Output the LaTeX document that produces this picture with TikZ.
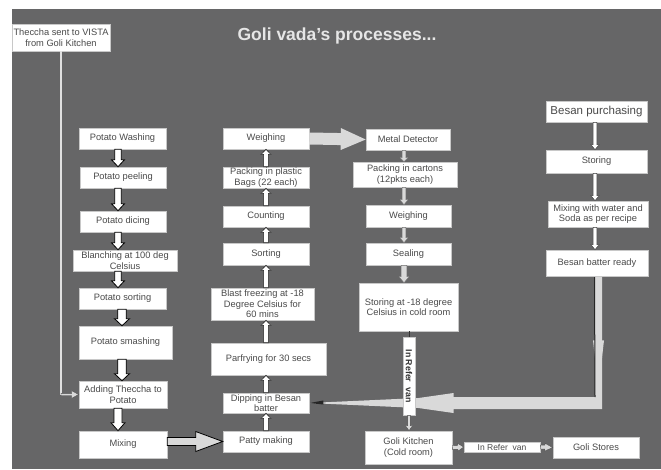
\documentclass[tikz,border=0pt]{standalone}
\usepackage{fontspec}
\setmainfont{Liberation Sans}
\usetikzlibrary{calc}
\definecolor{bgc}{HTML}{666667}
\definecolor{boxline}{HTML}{C8C8C8}
\definecolor{boxtext}{HTML}{4A4A4A}
\definecolor{lightfill}{HTML}{D9D9D9}
\definecolor{titlec}{HTML}{E6E6E6}
\pgfdeclarelayer{bg}
\pgfsetlayers{bg,main}
% #1 style, #2 start, #3 end, #4 shaft half width, #5 head half width, #6 head length
\newcommand{\blkarrow}[6]{%
  \coordinate (fas) at (#2);
  \coordinate (fae) at (#3);
  \coordinate (fah) at ($(fae)!#6pt!(fas)$);
  \filldraw[#1] ($(fas)!#4pt!90:(fae)$) -- ($(fah)!#4pt!-90:(fas)$) -- ($(fah)!#5pt!-90:(fas)$) -- (fae) -- ($(fah)!#5pt!90:(fas)$) -- ($(fah)!#4pt!90:(fas)$) -- ($(fas)!#4pt!-90:(fae)$) -- cycle;}
\tikzset{
  sz/.style 2 args={minimum width=#1pt, minimum height=#2pt},
  box/.style={draw=boxline, fill=white, text=boxtext, inner sep=0pt, align=center,
    font=\fontsize{9.3}{10.5}\selectfont, line width=0.6pt},
  titletext/.style={text=titlec, font=\fontsize{17.5}{20}\selectfont\bfseries, inner sep=0pt},
  lcol/.style={fill=white, draw=black, line width=0.8pt},
  mcol/.style={fill=white, draw=black!85, line width=0.6pt},
  rcol/.style={fill=lightfill, draw=black!55, line width=0.4pt},
  bcol/.style={fill=white, draw=black!75, line width=0.5pt},
  bigdark/.style={fill=lightfill, draw=black, line width=0.8pt},
  biglight/.style={fill=lightfill, draw=none},
  smallar/.style={fill=lightfill, draw=black!70, line width=0.4pt},
  thline/.style={draw=white!88!black, line width=1.4pt},
}
\begin{document}
\begin{tikzpicture}[x=1pt,y=-1pt]
\useasboundingbox (0,0) rectangle (661,469);
\begin{pgfonlayer}{bg}
  \fill[white] (0,0) rectangle (661,469);
  \fill[bgc] (12,9) rectangle (661,469);
\end{pgfonlayer}

\node[titletext] (title) at (337,36) {Goli vada's processes...};

% left column
\node[box, sz={98}{27}] (theccha) at (61,37.5) {Theccha sent to VISTA\\from Goli Kitchen};
\node[box, sz={87}{21}] (wash) at (122.5,138.5) {Potato Washing};
\node[box, sz={86}{21}] (peel) at (123,177.5) {Potato peeling};
\node[box, sz={86}{21}] (dice) at (123,221.5) {Potato dicing};
\node[box, sz={104}{21}] (blanch) at (125,260.5) {Blanching at 100 deg\\Celsius};
\node[box, sz={87}{21}] (psort) at (122.5,298.5) {Potato sorting};
\node[box, sz={93}{33}] (smash) at (125.5,342.5) {Potato smashing};
\node[box, sz={88}{27}] (adding) at (123,394.5) {Adding Theccha to\\Potato};
\node[box, sz={88}{27}] (mixing) at (123,444.5) {Mixing};

% middle column
\node[box, sz={86}{21}] (weigh1) at (266,138.5) {Weighing};
\node[box, sz={86}{21}] (pack1) at (266,177.5) {Packing in plastic\\Bags (22 each)};
\node[box, sz={86}{21}] (count) at (266,216.5) {Counting};
\node[box, sz={86}{22}] (sort2) at (266,254) {Sorting};
\node[box, sz={103}{32}] (blast) at (262.5,304) {Blast freezing at -18\\Degree Celsius for\\60 mins};
\node[box, sz={115}{32}] (parfry) at (268.5,359) {Parfrying for 30 secs};
\node[box, sz={86}{20}] (dip) at (266,403) {Dipping in Besan\\batter};
\node[box, sz={86}{21}] (patty) at (266,441.5) {Patty making};

% right-middle column
\node[box, sz={84}{21}] (metal) at (408,139.5) {Metal Detector};
\node[box, sz={104}{25}] (cartons) at (405,174.5) {Packing in cartons\\(12pkts each)};
\node[box, sz={85}{22}] (weigh2) at (408.5,216) {Weighing};
\node[box, sz={85}{22}] (seal) at (408.5,254) {Sealing};
\node[box, sz={99}{48}] (storing) at (408.5,307) {Storing at -18 degree\\Celsius in cold room};
\node[box, sz={87}{33}] (golik) at (408.5,447.5) {Goli Kitchen\\(Cold room)};
\node[box, sz={76}{10}, font=\fontsize{8.5}{9}\selectfont] (refer2) at (502,447) {In Refer\ \ van};
\node[box, sz={86}{21}] (stores) at (596,447.5) {Goli Stores};

% right column
\node[box, sz={101}{21}, font=\fontsize{11.5}{13}\selectfont] (besan) at (596.5,111.5) {Besan purchasing};
\node[box, sz={101}{23}] (storing2) at (596.5,161.5) {Storing};
\node[box, sz={100}{26}] (mixw) at (598,214) {Mixing with water and\\Soda as per recipe};
\node[box, sz={102}{26}] (batter) at (597,263) {Besan batter ready};

% vertical van box
\node[box, rotate=-90, sz={78}{12}, font=\fontsize{8.8}{9}\selectfont\bfseries, text=black!80] (refer1) at (409,376) {In Refer\ \ van};

% column x references
\coordinate (lx) at (118,0);
\coordinate (mx) at (266,0);
\coordinate (rx) at (404,0);
\coordinate (bx) at (595,0);

% left column arrows
\blkarrow{lcol}{lx |- wash.south}{lx |- peel.north}{3.3}{6.5}{7}
\blkarrow{lcol}{lx |- peel.south}{lx |- dice.north}{3.3}{6.5}{7}
\blkarrow{lcol}{lx |- dice.south}{lx |- blanch.north}{3.3}{6.5}{7}
\blkarrow{lcol}{lx |- blanch.south}{lx |- psort.north}{3.3}{6.5}{7}
\blkarrow{lcol}{$(lx |- psort.south)+(4,0)$}{$(lx |- smash.north)+(4,0)$}{4.2}{7.5}{7}
\blkarrow{lcol}{$(lx |- smash.south)+(4,0)$}{$(lx |- adding.north)+(4,0)$}{4.2}{7.5}{7}
\blkarrow{lcol}{lx |- adding.south}{lx |- mixing.north}{4}{7}{8}

% middle column up arrows
\blkarrow{mcol}{mx |- patty.north}{mx |- dip.south}{2.4}{4.8}{5}
\blkarrow{mcol}{mx |- dip.north}{mx |- parfry.south}{2.4}{4.8}{5}
\blkarrow{mcol}{mx |- parfry.north}{mx |- blast.south}{2.4}{4.8}{5}
\blkarrow{mcol}{mx |- blast.north}{mx |- sort2.south}{2.4}{4.8}{5}
\blkarrow{mcol}{mx |- sort2.north}{mx |- count.south}{2.4}{4.8}{5}
\blkarrow{mcol}{mx |- count.north}{mx |- pack1.south}{2.4}{4.8}{5}
\blkarrow{mcol}{mx |- pack1.north}{mx |- weigh1.south}{2.4}{4.8}{5}

% right-middle down arrows
\blkarrow{rcol}{rx |- metal.south}{rx |- cartons.north}{1.8}{4}{4}
\blkarrow{rcol}{rx |- cartons.south}{rx |- weigh2.north}{1.8}{4}{5}
\blkarrow{rcol}{rx |- weigh2.south}{rx |- seal.north}{1.8}{4}{5}
\blkarrow{rcol}{rx |- seal.south}{rx |- storing.north}{2.8}{5}{6}

% besan column arrows
\blkarrow{bcol}{bx |- besan.south}{bx |- storing2.north}{1.8}{4}{5}
\blkarrow{bcol}{bx |- storing2.south}{bx |- mixw.north}{1.8}{4}{5}
\blkarrow{bcol}{bx |- mixw.south}{bx |- batter.north}{1.8}{4}{5}

% big arrows
\blkarrow{bigdark}{$(mixing.east)+(0,-3)$}{$(patty.west |- mixing.east)+(0,-3)$}{4}{10}{27}
\blkarrow{biglight}{weigh1.east}{metal.west}{6}{11}{25}

% theccha line
\coordinate (thc) at (theccha.south |- adding.west);
\draw[thline] (theccha.south) -- (thc);
\blkarrow{smallar}{thc}{adding.west}{1.2}{3.8}{7}

% van connections
\draw[black!80, line width=0.6pt] (storing.south -| refer1.west) -- (refer1.west);
\blkarrow{smallar}{refer1.east}{refer1.east |- golik.north}{1.4}{3.5}{5}
\blkarrow{smallar}{golik.east}{refer2.west}{2}{4}{6}
\blkarrow{smallar}{refer2.east}{stores.west}{2}{4}{8}

% besan batter to dipping big arrow (behind the van box)
\coordinate (bcorner) at ($(batter.south |- dip.east)+(1.5,0)$);
\begin{pgfonlayer}{bg}
  \fill[lightfill] ($(batter.south)+(-2,0)$) -- ($(bcorner)+(-3.5,-6)$) -- ($(bcorner)+(-145,-6)$) -- ($(bcorner)+(-145,-10)$) -- ($(bcorner)+(-180,-5)$) -- (dip.east) -- ($(bcorner)+(-180,5)$) -- ($(bcorner)+(-145,10)$) -- ($(bcorner)+(-145,6)$) -- ($(bcorner)+(3.5,6)$) -- ($(batter.south)+(5,0)$) -- cycle;
  \fill[lightfill] ($(batter.south)+(-4,64)$) -- ($(batter.south)+(7,64)$) -- ($(batter.south)+(1.5,112)$) -- cycle;
  \draw[black!85, line width=1pt] ($(batter.south)+(-2.5,0)$) -- ($(bcorner)+(-3.5,-6)$);
  \fill[black!85] (dip.east) -- ($(dip.east)+(14,-2.5)$) -- ($(dip.east)+(14,1.5)$) -- cycle;
\end{pgfonlayer}
\end{tikzpicture}
\end{document}
